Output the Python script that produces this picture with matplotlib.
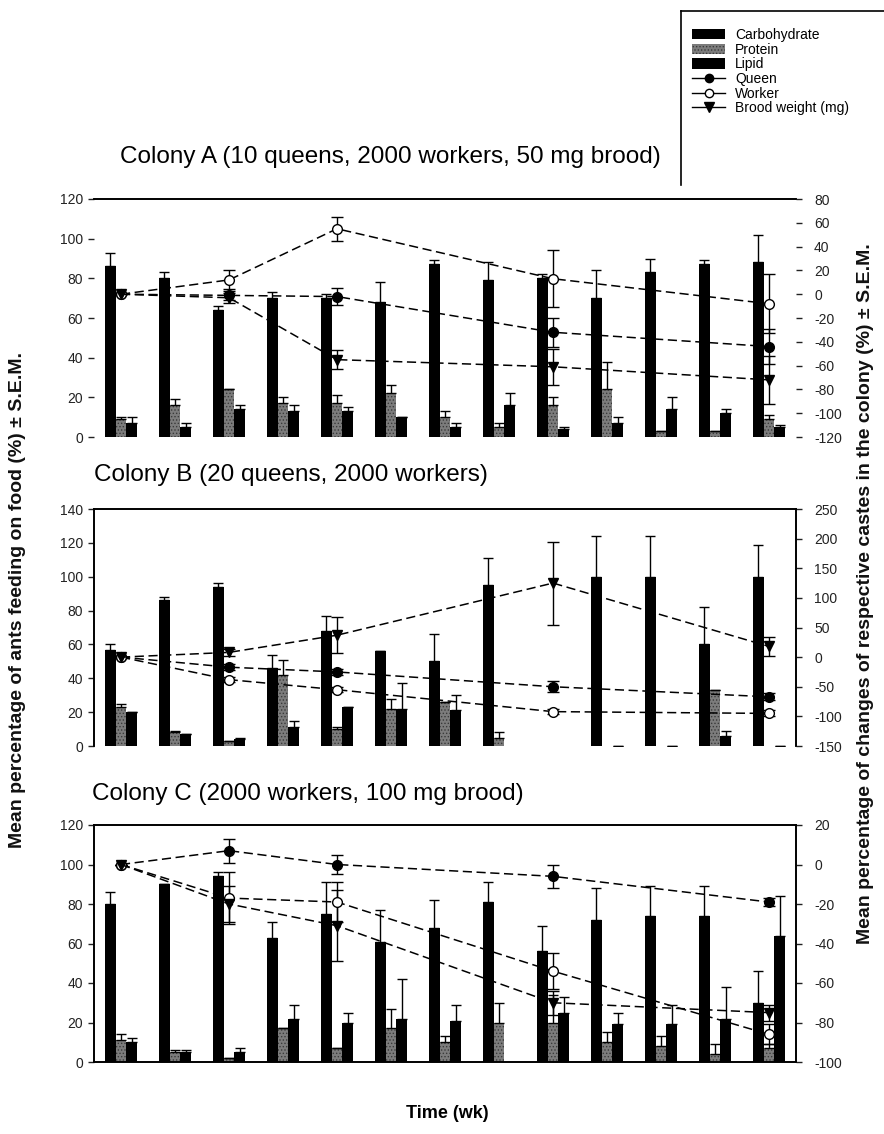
import numpy as np
import matplotlib
matplotlib.use("Agg")
import matplotlib.pyplot as plt
from matplotlib.lines import Line2D
from matplotlib.patches import Patch

plt.rcParams['font.family'] = ['Liberation Sans', 'DejaVu Sans']
plt.rcParams['hatch.linewidth'] = 0.6

nan = np.nan
weeks = list(range(13))
line_weeks = [0, 2, 4, 8, 12]

# ---------------- Colony A ----------------
carb_A = [86, 80, 64, 70, 70, 68, 87, 79, 80, 70, 83, 87, 88]
carb_A_err = [7, 3, 2, 3, 2, 10, 2, 9, 2, 14, 7, 2, 14]
prot_A = [9, 16, 24, 17, 17, 22, 10, 5, 16, 24, 3, 3, 9]
prot_A_err = [1, 3, 0, 3, 4, 4, 3, 2, 4, 14, 0, 0, 2]
lip_A = [7, 5, 14, 13, 13, 10, 5, 16, 4, 7, 14, 12, 5]
lip_A_err = [3, 2, 2, 3, 2, 0, 2, 6, 1, 3, 6, 2, 1]
queen_A = [0, -1, -2, -32, -44]
queen_A_err = [0, 4, 7, 12, 15]
worker_A = [0, 12, 55, 13, -8]
worker_A_err = [0, 8, 10, 24, 25]
brood_A = [0, -3, -55, -61, -72]
brood_A_err = [0, 4, 8, 15, 20]

# ---------------- Colony B ----------------
carb_B = [57, 86, 94, 46, 68, 56, 50, 95, nan, 100, 100, 60, 100]
carb_B_err = [3, 2, 2, 8, 9, 0, 16, 16, nan, 24, 24, 22, 19]
prot_B = [23, 8, 3, 42, 10, 22, 26, 5, nan, nan, nan, 33, nan]
prot_B_err = [2, 1, 0, 9, 1, 6, 0, 3, nan, nan, nan, 0, nan]
lip_B = [20, 7, 4, 11, 23, 22, 21, nan, nan, 0, 0, 6, 0]
lip_B_err = [0, 0, 1, 4, 0, 15, 9, nan, nan, 0, 0, 3, 0]
queen_B = [0, -17, -25, -50, -67]
queen_B_err = [0, 5, 5, 9, 6]
worker_B = [0, -38, -55, -92, -95]
worker_B_err = [0, 4, 4, 4, 5]
brood_B = [0, 8, 37, 125, 18]
brood_B_err = [0, 6, 30, 70, 16]

# ---------------- Colony C ----------------
carb_C = [80, 90, 94, 63, 75, 61, 68, 81, 56, 72, 74, 74, 30]
carb_C_err = [6, 0, 2, 8, 16, 16, 14, 10, 13, 16, 15, 15, 16]
prot_C = [11, 5, 2, 17, 7, 17, 10, 20, 20, 10, 8, 4, 7]
prot_C_err = [3, 1, 0, 0, 0, 10, 3, 10, 14, 5, 5, 5, 2]
lip_C = [10, 5, 5, 22, 20, 22, 21, nan, 25, 19, 19, 22, 64]
lip_C_err = [2, 1, 2, 7, 5, 20, 8, nan, 8, 6, 10, 16, 20]
queen_C = [0, 7, 0, -6, -19]
queen_C_err = [0, 6, 5, 6, 2]
worker_C = [0, -17, -19, -54, -86]
worker_C_err = [0, 13, 10, 9, 5]
brood_C = [0, -20, -31, -70, -75]
brood_C_err = [0, 9, 18, 6, 4]

titles = ["Colony A (10 queens, 2000 workers, 50 mg brood)",
          "Colony B (20 queens, 2000 workers)",
          "Colony C (2000 workers, 100 mg brood)"]
legend_labels = ["Carbohydrate", "Protein", "Lipid", "Queen", "Worker", "Brood weight (mg)"]

W, H = 884, 1134
fig = plt.figure(figsize=(W / 100, H / 100), dpi=100)

def fx(px):
    return px / W

def fy(py):
    return 1 - py / H

left_px, right_px = 94, 796
panels = [
    dict(top=199, bot=437, carb=carb_A, ce=carb_A_err, prot=prot_A, pe=prot_A_err, lip=lip_A, le=lip_A_err,
         q=queen_A, qe=queen_A_err, w=worker_A, we=worker_A_err, b=brood_A, be=brood_A_err,
         ylim=(0, 120), yt=np.arange(0, 121, 20), y2lim=(-120, 80), y2t=np.arange(-120, 81, 20),
         spines=('top',), title_xy=(120, 157)),
    dict(top=509, bot=746, carb=carb_B, ce=carb_B_err, prot=prot_B, pe=prot_B_err, lip=lip_B, le=lip_B_err,
         q=queen_B, qe=queen_B_err, w=worker_B, we=worker_B_err, b=brood_B, be=brood_B_err,
         ylim=(0, 140), yt=np.arange(0, 141, 20), y2lim=(-150, 250), y2t=np.arange(-150, 251, 50),
         spines=('top', 'left', 'right'), title_xy=(94, 475)),
    dict(top=825, bot=1062, carb=carb_C, ce=carb_C_err, prot=prot_C, pe=prot_C_err, lip=lip_C, le=lip_C_err,
         q=queen_C, qe=queen_C_err, w=worker_C, we=worker_C_err, b=brood_C, be=brood_C_err,
         ylim=(0, 120), yt=np.arange(0, 121, 20), y2lim=(-100, 20), y2t=np.arange(-100, 21, 20),
         spines=('top', 'left', 'right', 'bottom'), title_xy=(92, 794)),
]

x = np.array(weeks, dtype=float)
xl = np.array(line_weeks, dtype=float)
bw = 0.2
prot_color = '#7c7c7c'
tick_color = '#222222'

for i, p in enumerate(panels):
    ax = fig.add_axes([fx(left_px), fy(p['bot']), fx(right_px - left_px), (p['bot'] - p['top']) / H])
    ax2 = ax.twinx()
    for a in (ax, ax2):
        for s in ('top', 'left', 'right', 'bottom'):
            a.spines[s].set_visible(s in p['spines'])
            a.spines[s].set_linewidth(1.2)
    ax.set_xlim(-0.5, 12.5)
    ax.set_ylim(*p['ylim'])
    ax2.set_ylim(*p['y2lim'])
    ax.set_yticks(p['yt'])
    ax2.set_yticks(p['y2t'])
    ax2.set_yticklabels([str(int(v)) for v in p['y2t']])

    ekw = dict(ecolor='black', elinewidth=1.0, capsize=3.5, capthick=1.0, fmt='none')
    carb = np.array(p['carb'], float); prot = np.array(p['prot'], float); lip = np.array(p['lip'], float)
    ax.bar(x - bw, carb, width=bw, color='black', linewidth=0)
    ax.bar(x, prot, width=bw, color=prot_color, edgecolor='#3a3a3a', hatch='.....', linewidth=0)
    ax.bar(x + bw, lip, width=bw, color='black', linewidth=0)
    for off, vals, errs in ((-bw, carb, p['ce']), (0, prot, p['pe']), (bw, lip, p['le'])):
        errs = np.array(errs, float)
        ax.errorbar(x + off, vals, yerr=[np.zeros_like(errs), errs], **ekw)

    lkw = dict(color='black', linestyle=(0, (6, 3)), linewidth=1.1, markersize=7,
               elinewidth=1.0, capsize=4, capthick=1.0, ecolor='black')
    ax2.errorbar(xl, p['q'], yerr=p['qe'], marker='o', markerfacecolor='black', markeredgecolor='black', **lkw)
    ax2.errorbar(xl, p['w'], yerr=p['we'], marker='o', markerfacecolor='white', markeredgecolor='black', **lkw)
    ax2.errorbar(xl, p['b'], yerr=p['be'], marker='v', markerfacecolor='black', markeredgecolor='black', **lkw)

    ax.tick_params(axis='y', direction='out', length=4, width=1, labelsize=10, colors=tick_color, pad=4)
    ax2.tick_params(axis='y', direction='out', length=4, width=1, labelsize=10, colors=tick_color, pad=9)
    if i == 2:
        ax.set_xticks(weeks)
        ax.tick_params(axis='x', direction='out', length=4, width=1, labelsize=11, colors=tick_color, pad=8)
    else:
        ax.set_xticks([])
    ax2.set_xticks([])

    tx, ty = p['title_xy']
    fig.text(fx(tx), fy(ty), titles[i], fontsize=17.5, va='center', ha='left')

# axis labels
fig.text(fx(18), fy(600), "Mean percentage of ants feeding on food (%) \u00b1 S.E.M.", rotation=90,
         fontsize=14, fontweight='bold', va='center', ha='center', color='#111111')
fig.text(fx(866), fy(594), "Mean percentage of changes of respective castes in the colony (%) \u00b1 S.E.M.",
         rotation=90, fontsize=14, fontweight='bold', va='center', ha='center', color='#111111')
fig.text(fx(447), fy(1113), "Time (wk)", fontsize=13, fontweight='bold', va='center', ha='center')

# legend
handles = [
    Patch(facecolor='black', edgecolor='black', linewidth=0),
    Patch(facecolor=prot_color, edgecolor='#3a3a3a', hatch='.....', linewidth=0),
    Patch(facecolor='black', edgecolor='black', linewidth=0),
    Line2D([], [], color='black', marker='o', markerfacecolor='black', markersize=6, linewidth=1),
    Line2D([], [], color='black', marker='o', markerfacecolor='white', markersize=6, linewidth=1),
    Line2D([], [], color='black', marker='v', markerfacecolor='black', markersize=7, linewidth=1),
]
fig.legend(handles, legend_labels, loc='upper left', bbox_to_anchor=(fx(692), fy(28)), frameon=False,
           fontsize=10, handlelength=2.4, handleheight=0.8, labelspacing=0.05, handletextpad=0.7,
           borderpad=0, borderaxespad=0)
fig.add_artist(Line2D([fx(681), 1.0], [fy(11), fy(11)], color='black', linewidth=1.2, transform=fig.transFigure))
fig.add_artist(Line2D([fx(681), fx(681)], [fy(11), fy(185)], color='black', linewidth=1.2, transform=fig.transFigure))

fig.savefig("out.png", dpi=100)
